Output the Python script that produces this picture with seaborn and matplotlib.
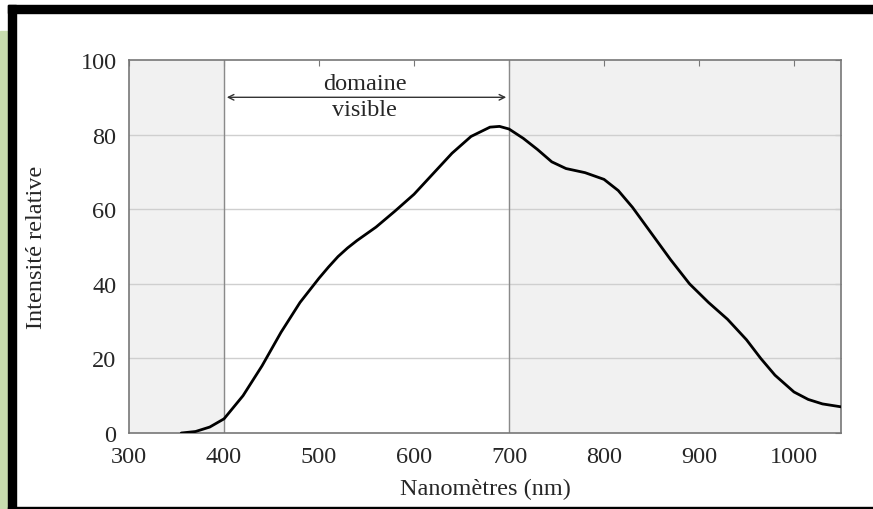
import numpy as np
import pandas as pd
import matplotlib.pyplot as plt
import seaborn as sns
from matplotlib.patches import Rectangle

# données
longueur_onde = [355, 370, 385, 400, 420, 440, 460, 480, 500, 510, 520, 530,
                 540, 560, 580, 600, 620, 640, 660, 680, 690, 700, 715, 730,
                 745, 760, 780, 800, 815, 830, 850, 870, 890, 910, 930, 950,
                 965, 980, 1000, 1015, 1030, 1050]
intensite = [0, 0.4, 1.6, 3.8, 10, 18, 27, 35, 41.5, 44.5, 47.3, 49.6,
             51.6, 55.2, 59.5, 64, 69.5, 75, 79.5, 82, 82.2, 81.5, 79, 76,
             72.7, 70.9, 69.8, 68, 65, 60.5, 53.5, 46.5, 40, 35, 30.5, 25,
             20, 15.5, 11, 9, 7.8, 7]
yticks = [0, 20, 40, 60, 80, 100]
xticks = [300, 400, 500, 600, 700, 800, 900, 1000]

sns.set_style('white')
plt.rcParams['font.family'] = ['Liberation Serif', 'DejaVu Serif']

df = pd.DataFrame({'nm': longueur_onde, 'I': intensite})

fig = plt.figure(figsize=(8.73, 5.10), dpi=100)
ax = fig.add_axes([0.1478, 0.149, 0.8161, 0.7314])

# zones hors du domaine visible
ax.axvspan(300, 400, color='#f1f1f1', zorder=0)
ax.axvspan(700, 1050, color='#f1f1f1', zorder=0)
for y in [20, 40, 60, 80]:
    ax.axhline(y, color='#cfcfcf', lw=1, zorder=1)
ax.axvline(400, color='#8a8a8a', lw=1, zorder=1)
ax.axvline(700, color='#8a8a8a', lw=1, zorder=1)

sns.lineplot(data=df, x='nm', y='I', ax=ax, color='black', lw=2, zorder=3)

ax.annotate('', xy=(400, 90), xytext=(700, 90),
            arrowprops=dict(arrowstyle='<->', color='#333333', lw=1))
ax.text(548, 93.6, 'domaine', ha='center', va='center', fontsize=17.5)
ax.text(548, 86.7, 'visible', ha='center', va='center', fontsize=17.5)

ax.set_xlim(300, 1050)
ax.set_ylim(0, 100)
ax.set_xticks(xticks)
ax.set_yticks(yticks)
ax.tick_params(axis='both', labelsize=17.5, direction='in', length=4,
               color='#777777', top=True, right=True, pad=9)
ax.set_xlabel('Nanomètres (nm)', fontsize=17.5, labelpad=8)
ax.set_ylabel('Intensité relative', fontsize=17.5, labelpad=24)
for s in ax.spines.values():
    s.set_color('#777777')
    s.set_linewidth(1.2)

# cadre de la capture d'écran
fig.patches.append(Rectangle((0, 0), 8 / 873, 478 / 510, transform=fig.transFigure,
                             color='#c8dcae', zorder=0))
fig.patches.append(Rectangle((8 / 873, 0), 8 / 873, 504 / 510, transform=fig.transFigure,
                             color='black', zorder=1))
fig.patches.append(Rectangle((8 / 873, 496 / 510), 865 / 873, 8 / 510,
                             transform=fig.transFigure, color='black', zorder=1))
fig.patches.append(Rectangle((8 / 873, 0), 865 / 873, 2 / 510,
                             transform=fig.transFigure, color='black', zorder=1))

fig.savefig('out.png', dpi=100)
